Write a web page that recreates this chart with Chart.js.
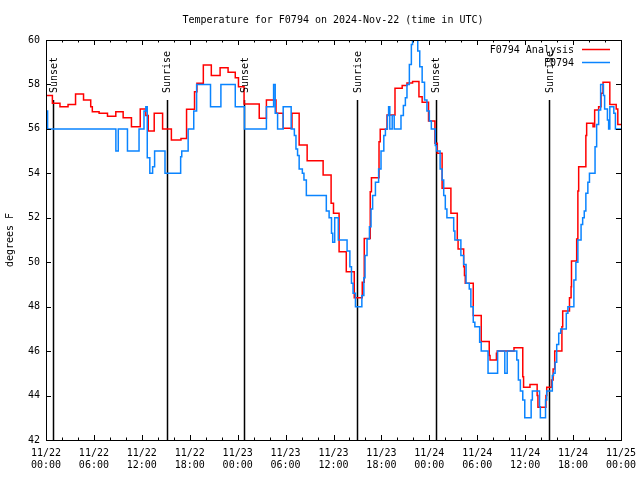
<!DOCTYPE html>
<html lang="en">
<head>
<meta charset="UTF-8">
<title>Temperature for F0794</title>
<style>
  body { margin: 0; padding: 0; background: #fff; }
  #wrap { width: 640px; height: 480px; }
</style>
</head>
<body>
<div id="wrap"><canvas id="tempChart" width="640" height="480"></canvas></div>

<script src="https://cdn.jsdelivr.net/npm/chart.js"></script>
<script>
// hours since 11/22 00:00 UTC at which each value starts (step plot)
const analysisHours = [0, 0.8, 1.75, 2.76, 3.7, 4.7, 5.6, 5.8, 6.65, 7.7, 8.74, 9.66, 10.7, 11.8, 12.5, 12.8,
  13.55, 14.6, 15.7, 16.9, 17.6, 18.6, 18.9, 19.7, 20.7, 21.8, 22.8, 23.7, 24.1, 24.8, 26.7, 27.6, 28.8, 29.7,
  30.8, 31.7, 32.7, 34.7, 35.7, 36.0, 36.7, 37.6, 38.6, 39.6, 39.85, 40.6, 40.75, 41.7, 41.85, 42.7, 43.7,
  44.6, 45.2, 45.9, 46.7, 47.1, 47.9, 48.7, 49.0, 49.6, 50.7, 51.5, 51.6, 52.3, 52.4, 52.5, 53.5, 54.5, 55.5,
  55.6, 56.4, 56.5, 58.6, 59.7, 59.8, 60.6, 61.5, 61.6, 62.6, 62.7, 63.3, 63.5, 63.7, 64.6, 64.7, 65.55,
  65.75, 65.8, 66.45, 66.6, 66.7, 67.6, 67.7, 68.5, 68.7, 69.2, 69.5, 69.75, 70.6, 71.4, 71.6, 72];
const analysisTemps = [57.5, 57.15, 57.0, 57.1, 57.57, 57.3, 57.0, 56.77, 56.7, 56.57, 56.77, 56.5, 56.1, 56.9,
  56.6, 55.9, 56.7, 56.0, 55.5, 55.57, 56.88, 57.67, 58.05, 58.87, 58.4, 58.75, 58.55, 58.3, 57.9, 57.12,
  56.48, 57.3, 56.7, 56.03, 56.7, 55.27, 54.57, 53.92, 52.65, 52.2, 50.47, 49.57, 48.4, 49.1, 51.07, 53.17,
  53.8, 55.42, 55.98, 56.62, 57.83, 57.95, 58.06, 58.13, 57.45, 57.2, 56.35, 55.35, 54.9, 53.33, 52.2, 51.0,
  50.6, 49.8, 49.4, 49.05, 47.6, 46.43, 45.8, 45.6, 45.9, 46.0, 46.15, 44.85, 44.37, 44.5, 44.0, 43.47, 44.0,
  44.37, 44.7, 45.2, 46.0, 47.1, 47.8, 48.4, 48.9, 50.05, 51.05, 53.2, 54.3, 55.7, 56.25, 56.1, 56.85, 57.0,
  57.6, 58.1, 57.1, 56.9, 56.2, 56.2];

const obsHours = [0, 0.2, 8.75, 9.05, 10.2, 11.65, 12.27, 12.5, 12.68, 13.0, 13.35, 13.6, 14.9, 16.86, 17.0,
  17.8, 18.5, 18.86, 20.6, 21.9, 23.7, 24.85, 27.6, 28.5, 28.7, 29.0, 29.7, 30.7, 31.1, 31.3, 31.5, 31.7,
  32.1, 32.3, 32.6, 35.1, 35.45, 35.75, 35.9, 36.15, 36.6, 37.7, 38.05, 38.25, 38.45, 38.75, 39.55, 39.8,
  39.95, 40.2, 40.5, 40.7, 40.9, 41.25, 41.65, 41.95, 42.3, 42.5, 42.75, 42.9, 43.05, 43.35, 43.6, 44.45,
  44.75, 45.0, 45.2, 45.5, 45.75, 45.9, 46.55, 46.8, 47.1, 47.4, 47.7, 48.0, 48.25, 48.75, 48.9, 49.35,
  49.6, 49.8, 50.0, 50.2, 51.05, 51.2, 51.95, 52.3, 52.6, 53.0, 53.2, 53.5, 53.7, 54.3, 54.5, 55.35, 56.55,
  57.45, 57.75, 58.95, 59.15, 59.4, 59.7, 59.95, 60.75, 60.9, 61.8, 61.9, 62.55, 62.7, 63.4, 63.55, 63.75,
  63.95, 64.2, 64.45, 65.15, 65.35, 66.1, 66.35, 66.6, 67.0, 67.2, 67.4, 67.6, 67.85, 68.05, 68.75, 68.95,
  69.2, 69.45, 69.8, 69.95, 70.3, 70.45, 70.6, 71.1, 71.3, 72];
const obsTemps = [56.8, 56.0, 55.0, 56.0, 55.0, 56.0, 56.8, 57.0, 54.7, 54.0, 54.3, 55.0, 54.0, 54.75, 55.0,
  56.0, 56.8, 58.0, 57.0, 58.0, 57.0, 56.0, 57.0, 58.0, 56.7, 56.0, 57.0, 56.0, 55.7, 55.1, 54.8, 54.2,
  54.0, 53.7, 53.0, 52.3, 52.0, 51.3, 50.9, 52.0, 51.0, 50.5, 49.8, 49.05, 48.6, 48.0, 48.5, 49.3,
  50.3, 51.05, 51.6, 52.4, 53.0, 53.6, 54.2, 55.0, 55.7, 56.0, 56.6, 57.0, 56.0, 56.6, 56.0, 56.6,
  57.05, 57.4, 58.0, 58.9, 59.8, 60.5, 59.5, 58.8, 58.1, 57.3, 56.8, 56.35, 56.0, 55.25, 55.0, 54.2,
  53.7, 53.0, 52.4, 52.0, 51.4, 51.0, 50.3, 49.9, 49.05, 48.8, 48.0, 47.3, 47.1, 46.4, 46.0, 45.0, 46.0,
  45.0, 46.0, 45.6, 44.7, 44.2, 43.8, 43.0, 43.8, 44.2, 43.5, 43.0, 43.8, 44.2, 44.9, 45.0, 45.5,
  46.3, 46.8, 47.0, 47.7, 48.0, 49.2, 50.0, 51.0, 51.7, 52.0, 52.3, 53.1, 53.6, 54.0, 55.2, 56.2,
  56.85, 58.0, 57.5, 56.9, 56.4, 56.0, 57.0, 56.7, 56.0, 56.0];

// sunrise / sunset markers
const sunHours = [0.9, 15.1, 24.85, 38.95, 48.8, 63.0];
const sunLabels = ['Sunset', 'Sunrise', 'Sunset', 'Sunrise', 'Sunset', 'Sunrise'];

// x tick labels, one every 6 hours
const tickDates = ['11/22', '11/22', '11/22', '11/22', '11/23', '11/23', '11/23', '11/23',
  '11/24', '11/24', '11/24', '11/24', '11/25'];
const tickTimes = ['00:00', '06:00', '12:00', '18:00', '00:00', '06:00', '12:00', '18:00',
  '00:00', '06:00', '12:00', '18:00', '00:00'];

const seriesNames = ['F0794 Analysis', 'F0794'];
const seriesColors = ['#ff0000', '#0a84ff'];

const MONO = '"DejaVu Sans Mono", "Liberation Mono", monospace';

function toPoints(hours, temps) {
  return hours.map((h, i) => ({ x: h, y: temps[i] }));
}

// gnuplot style frame, inward ticks, title, labels and legend
const gnuplotLook = {
  id: 'gnuplotLook',
  beforeDatasetsDraw(chart) {
    const { ctx, chartArea, scales } = chart;
    ctx.save();
    ctx.strokeStyle = '#000';
    ctx.lineWidth = 1.5;
    sunHours.forEach(h => {
      const x = Math.round(scales.x.getPixelForValue(h)) + 0.5;
      ctx.beginPath();
      ctx.moveTo(x, chartArea.bottom);
      ctx.lineTo(x, chartArea.top + 60);
      ctx.stroke();
    });
    ctx.restore();
  },
  afterDraw(chart) {
    const { ctx, chartArea, scales } = chart;
    const { left, right, top, bottom } = chartArea;
    ctx.save();
    ctx.strokeStyle = '#000';
    ctx.lineWidth = 1;
    ctx.strokeRect(left + 0.5, top + 0.5, right - left, bottom - top);

    ctx.beginPath();
    for (let v = 42; v <= 60; v += 2) {
      const y = Math.round(scales.y.getPixelForValue(v)) + 0.5;
      ctx.moveTo(left, y); ctx.lineTo(left + 5, y);
      ctx.moveTo(right, y); ctx.lineTo(right - 5, y);
    }
    for (let h = 0; h <= 72; h += 2) {
      const x = Math.round(scales.x.getPixelForValue(h)) + 0.5;
      const len = h % 6 === 0 ? 5 : 2.5;
      ctx.moveTo(x, bottom); ctx.lineTo(x, bottom - len);
      ctx.moveTo(x, top); ctx.lineTo(x, top + len);
    }
    ctx.stroke();

    ctx.fillStyle = '#000';
    ctx.font = '10px ' + MONO;

    // title
    ctx.textAlign = 'center';
    ctx.textBaseline = 'middle';
    ctx.fillText('Temperature for F0794 on 2024-Nov-22 (time in UTC)', 333, 20);

    // y axis title
    ctx.save();
    ctx.translate(10, 240);
    ctx.rotate(-Math.PI / 2);
    ctx.fillText('degrees F', 0, 0);
    ctx.restore();

    // sun labels
    sunHours.forEach((h, i) => {
      const x = scales.x.getPixelForValue(h) + 1;
      ctx.save();
      ctx.translate(x, top + 53);
      ctx.rotate(-Math.PI / 2);
      ctx.textAlign = 'left';
      ctx.textBaseline = 'middle';
      ctx.fillText(sunLabels[i], 0, 0);
      ctx.restore();
    });

    // legend
    ctx.textAlign = 'right';
    ctx.textBaseline = 'middle';
    seriesNames.forEach((name, i) => {
      const y = 50 + i * 13;
      ctx.fillText(name, 574, y);
      ctx.strokeStyle = seriesColors[i];
      ctx.lineWidth = 1.5;
      ctx.beginPath();
      ctx.moveTo(582, y - 0.5);
      ctx.lineTo(610, y - 0.5);
      ctx.stroke();
    });
    ctx.restore();
  }
};

const tickFont = { family: MONO, size: 10 };

new Chart(document.getElementById('tempChart'), {
  type: 'line',
  data: {
    datasets: [
      {
        label: seriesNames[0],
        data: toPoints(analysisHours, analysisTemps),
        borderColor: seriesColors[0],
        borderWidth: 1.5,
        stepped: true,
        pointRadius: 0,
        fill: false,
        order: 1
      },
      {
        label: seriesNames[1],
        data: toPoints(obsHours, obsTemps),
        borderColor: seriesColors[1],
        borderWidth: 1.5,
        stepped: true,
        pointRadius: 0,
        fill: false,
        order: 0
      }
    ]
  },
  options: {
    responsive: false,
    animation: false,
    devicePixelRatio: 1,
    layout: { padding: { top: 40, right: 19, bottom: 0, left: 0 } },
    plugins: {
      legend: { display: false },
      title: { display: false },
      tooltip: { enabled: false }
    },
    scales: {
      x: {
        type: 'linear',
        min: 0,
        max: 72,
        afterFit: s => { s.height = 40; s.paddingLeft = 0; s.paddingRight = 0; },
        afterBuildTicks: s => { s.ticks = tickDates.map((d, i) => ({ value: i * 6 })); },
        grid: { display: false, drawTicks: false },
        border: { display: false },
        ticks: {
          autoSkip: false,
          maxRotation: 0,
          padding: 7,
          color: '#000',
          font: tickFont,
          callback: v => [tickDates[v / 6], tickTimes[v / 6]]
        }
      },
      y: {
        min: 42,
        max: 60,
        afterFit: s => { s.width = 46; },
        grid: { display: false, drawTicks: false },
        border: { display: false },
        ticks: { stepSize: 2, padding: 6, color: '#000', font: tickFont }
      }
    }
  },
  plugins: [gnuplotLook]
});
</script>
</body>
</html>
